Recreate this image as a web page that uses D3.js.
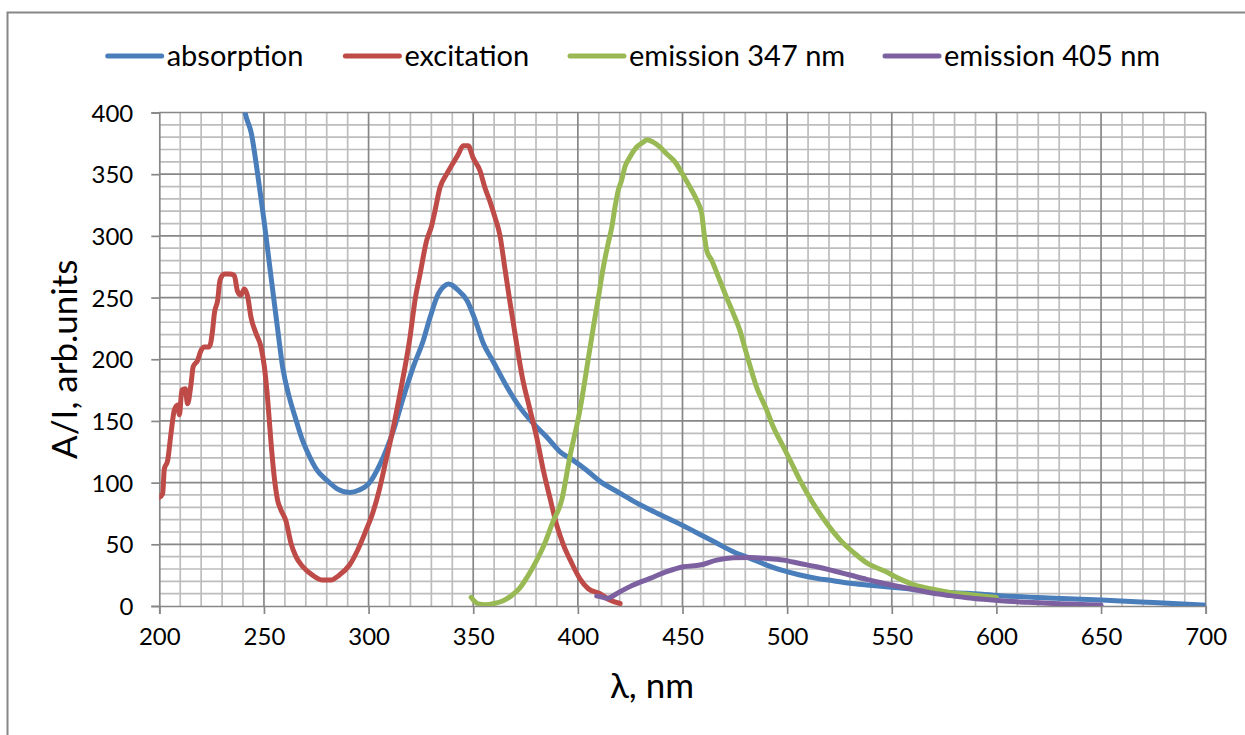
<!DOCTYPE html>
<html>
<head>
<meta charset="utf-8">
<script src="https://cdn.jsdelivr.net/npm/d3@7"></script>
<style>
  html, body { margin: 0; padding: 0; background: #fff; }
  svg { display: block; }
  text { font-family: Lato, "Open Sans", sans-serif; fill: #000; }
</style>
</head>
<body>
<svg id="chart" width="1245" height="735"></svg>
<script>
// Spectra: [wavelength nm, A or I in arbitrary units]
const absorption = [
  [240, 410], [241, 400], [244, 383], [247, 350], [250, 313], [253, 272], [256.5, 225],
  [259, 193], [262, 170], [265.3, 151], [268.5, 134], [271, 124], [275, 111], [280, 102],
  [285, 95], [291, 92], [295.5, 94], [300, 99], [305.5, 115], [311.8, 142], [316.6, 169],
  [321.4, 194], [326.1, 215], [329.4, 234], [333.3, 253], [336, 259], [338.1, 261],
  [340, 260], [342.1, 257], [346.9, 248], [350.9, 232], [354.8, 213], [359.6, 198],
  [366, 178], [372.3, 161], [378.7, 148], [385.1, 137], [391.5, 125], [397.8, 118],
  [404.2, 110], [410.6, 101], [418.5, 93], [426.5, 85], [434.5, 78], [442.4, 71.5],
  [450.4, 65], [458.4, 58], [466.3, 51], [474.3, 44], [482.3, 38.6], [490.2, 33.2],
  [498.2, 28.6], [506.1, 25.1], [514.1, 22.4], [522, 20.5], [530, 18.4], [538, 17],
  [546, 15.7], [554, 14.5], [570, 11.6], [586, 10.3], [602, 8.4], [625, 6.5], [650, 4.9],
  [675, 2.8], [700, 0.6]
];

const excitation = [
  [200, 88], [201.6, 91], [202.4, 111], [204, 118], [205.6, 140], [207.2, 159], [208.8, 163],
  [209.6, 155], [210.8, 175], [212.4, 176], [213.5, 164], [215.1, 179], [216.2, 194],
  [218.3, 199], [219.9, 207], [221.5, 210], [223.9, 210], [225.5, 224], [226.3, 237],
  [227.9, 248], [229, 264], [231, 269], [233.4, 269], [235.8, 268], [237.4, 255], [239, 252],
  [240.6, 257], [242.2, 251], [243.8, 234], [246.2, 221], [248.6, 210], [250.2, 194],
  [251.8, 167], [253.4, 132], [254.9, 105], [256.5, 86], [258.1, 78], [260.5, 69],
  [262.9, 51], [265.3, 40], [268.5, 32], [273.2, 25], [278, 21], [282, 21], [286, 25],
  [290.8, 33], [294.7, 45], [298.7, 61], [301.9, 75], [305.1, 94], [308.3, 118],
  [311.5, 142], [315, 172], [319.8, 218], [322.2, 248], [324.6, 269], [327.7, 296],
  [330.1, 308], [331.7, 320], [334.1, 339], [337.3, 350], [340.4, 359], [342.8, 366],
  [345.2, 373], [347.6, 373], [350, 363], [353.2, 353], [355.6, 339], [358, 328],
  [360.4, 315], [362.7, 301], [365.1, 274], [367.5, 247], [370.5, 215], [373.5, 185],
  [377, 160], [380.3, 137], [383.5, 110], [386.6, 88], [390, 65], [393, 50], [397, 35],
  [401, 22], [405, 14], [410.6, 10], [415, 5], [420.2, 2]
];

const emission347 = [
  [349, 7], [352, 2], [356, 1], [360, 2], [364, 4], [368, 8], [372, 14], [376, 24],
  [380, 36], [384, 50], [388, 68], [392.3, 86], [396.2, 121], [401, 159], [405.6, 207],
  [407.4, 226], [409.8, 250], [412.2, 275], [414.5, 294], [416.2, 307], [417.7, 323],
  [419.3, 337], [420.9, 345], [422.5, 356], [424.9, 364], [428.1, 372], [431.3, 376],
  [432.9, 378], [436, 376], [439.3, 372], [442.4, 366.5], [446.4, 360], [450.4, 349],
  [454.4, 337], [456.8, 329], [459.2, 318], [460.3, 302], [461.6, 288], [464, 280],
  [467.1, 267], [471.1, 250], [474.3, 237], [477.5, 223], [480.5, 205], [485.5, 177],
  [490.2, 159], [493.4, 145], [498.2, 129], [502.2, 115.5], [506.1, 102], [512.5, 83],
  [518.9, 67], [525.6, 53], [532, 43], [538.4, 34.5], [546.3, 28.5], [554.3, 21.6],
  [562.3, 16.2], [570.2, 13.5], [578.2, 10.8], [586.1, 9.5], [594.1, 8], [600, 7]
];

const emission405 = [
  [409, 8], [411, 7.5], [413.8, 6.2], [420.1, 11.6], [426.5, 17], [434.5, 22.4],
  [442.4, 27.8], [450.4, 31.8], [458.4, 33.2], [466.3, 37.2], [474.3, 39.1], [482.3, 39.4],
  [490.2, 38.6], [498.2, 37.2], [506.1, 34.5], [514.1, 31.8], [522, 28.6], [530, 25.1],
  [538, 21.6], [546, 18.4], [554, 15.6], [562, 13], [570, 10.3], [578, 8.4], [586, 6.7],
  [594, 5.4], [602, 4.3], [615, 3], [630, 1.8], [650, 0.8]
];

const seriesNames = ["absorption", "excitation", "emission 347 nm", "emission 405 nm"];
const seriesColors = ["#4a7ebb", "#be4b48", "#98b954", "#7d60a0"];
const xTicks = [200, 250, 300, 350, 400, 450, 500, 550, 600, 650, 700];
const yTicks = [0, 50, 100, 150, 200, 250, 300, 350, 400];
const xTitle = "λ, nm";
const yTitle = "A/I, arb.units";

const svg = d3.select("#chart");
const W = 1245, H = 735;
const plot = { left: 159.3, right: 1205.7, top: 112.5, bottom: 606 };

const x = d3.scaleLinear().domain([200, 700]).range([plot.left, plot.right]);
const y = d3.scaleLinear().domain([0, 400]).range([plot.bottom, plot.top]);

// outer chart frame
svg.append("rect")
  .attr("x", 7.5).attr("y", 12.5)
  .attr("width", W).attr("height", H)
  .attr("fill", "none").attr("stroke", "#878787").attr("stroke-width", 2);

// minor grid every 10 units
const minorX = d3.range(210, 700, 10).filter(v => v % 50 !== 0);
const minorY = d3.range(10, 400, 10).filter(v => v % 50 !== 0);
const grid = svg.append("g");
grid.selectAll("line.mx").data(minorX).join("line")
  .attr("x1", d => x(d)).attr("x2", d => x(d))
  .attr("y1", plot.top).attr("y2", plot.bottom)
  .attr("stroke", "#bdbdbd").attr("stroke-width", 1.7);
grid.selectAll("line.my").data(minorY).join("line")
  .attr("x1", plot.left).attr("x2", plot.right)
  .attr("y1", d => y(d)).attr("y2", d => y(d))
  .attr("stroke", "#bdbdbd").attr("stroke-width", 1.7);

// major grid every 50 units
grid.selectAll("line.Mx").data(xTicks.slice(1)).join("line")
  .attr("x1", d => x(d)).attr("x2", d => x(d))
  .attr("y1", plot.top).attr("y2", plot.bottom)
  .attr("stroke", "#878787").attr("stroke-width", 1.7);
grid.selectAll("line.My").data(yTicks.slice(1)).join("line")
  .attr("x1", plot.left).attr("x2", plot.right)
  .attr("y1", d => y(d)).attr("y2", d => y(d))
  .attr("stroke", "#878787").attr("stroke-width", 1.7);

// axes
const xAxis = svg.append("g")
  .attr("transform", `translate(0,${plot.bottom})`)
  .call(d3.axisBottom(x).tickValues(xTicks).tickSize(8).tickPadding(14).tickFormat(d3.format("d")));
const yAxis = svg.append("g")
  .attr("transform", `translate(${plot.left},0)`)
  .call(d3.axisLeft(y).tickValues(yTicks).tickSize(8).tickPadding(18).tickFormat(d3.format("d")));
[xAxis, yAxis].forEach(g => {
  g.select(".domain").attr("stroke", "#878787").attr("stroke-width", 1.7);
  g.selectAll(".tick line").attr("stroke", "#878787").attr("stroke-width", 1.7);
  g.selectAll(".tick text")
    .attr("font-family", "Lato, 'Open Sans', sans-serif")
    .attr("font-size", 24).attr("fill", "#000");
});
xAxis.selectAll(".tick text").attr("dy", "0.71em");
yAxis.selectAll(".tick text").attr("dy", "0.36em");

// axis titles
svg.append("text")
  .attr("x", 652).attr("y", 698)
  .attr("text-anchor", "middle").attr("font-size", 35)
  .text(xTitle);
svg.append("text")
  .attr("transform", `translate(77,${(plot.top + plot.bottom) / 2}) rotate(-90)`)
  .attr("text-anchor", "middle").attr("font-size", 35)
  .text(yTitle);

// spectra
svg.append("clipPath").attr("id", "plotClip")
  .append("rect")
  .attr("x", plot.left).attr("y", plot.top)
  .attr("width", plot.right - plot.left).attr("height", plot.bottom - plot.top);

const line = d3.line()
  .x(d => x(d[0])).y(d => y(d[1]))
  .curve(d3.curveMonotoneX);

const series = [absorption, excitation, emission347, emission405];
svg.append("g").attr("clip-path", "url(#plotClip)")
  .selectAll("path").data(series).join("path")
  .attr("d", line)
  .attr("fill", "none")
  .attr("stroke", (d, i) => seriesColors[i])
  .attr("stroke-width", 5)
  .attr("stroke-linejoin", "round")
  .attr("stroke-linecap", "round");

// legend
const legendX = [107.7, 345.4, 570, 885];
const legend = svg.append("g").attr("transform", "translate(0,56)");
const items = legend.selectAll("g").data(seriesNames).join("g")
  .attr("transform", (d, i) => `translate(${legendX[i]},0)`);
items.append("line")
  .attr("x1", 0).attr("x2", 54)
  .attr("stroke", (d, i) => seriesColors[i])
  .attr("stroke-width", 5).attr("stroke-linecap", "round");
items.append("text")
  .attr("x", 59).attr("dy", "0.35em")
  .attr("font-size", 29)
  .text(d => d);
</script>
</body>
</html>
